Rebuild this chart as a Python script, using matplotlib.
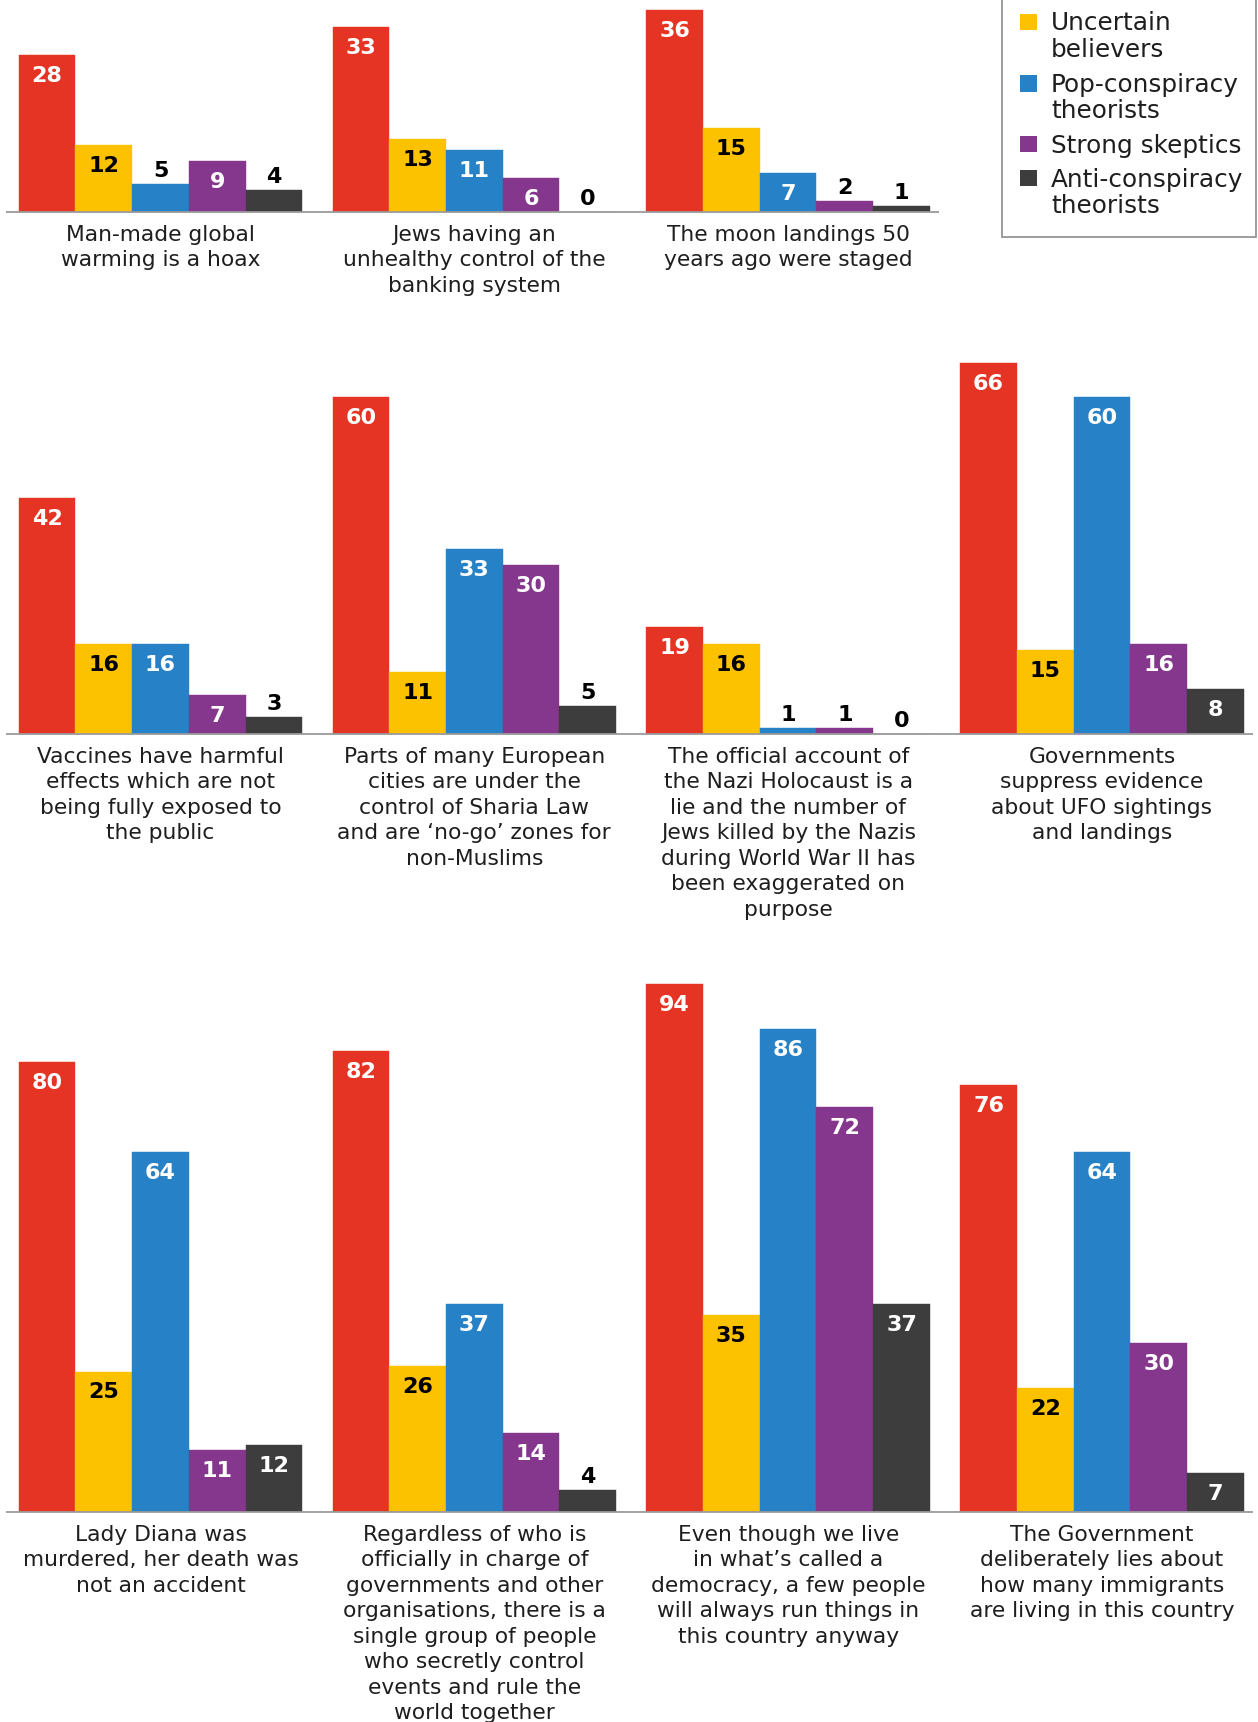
import matplotlib
matplotlib.use("Agg")
import matplotlib.pyplot as plt
from matplotlib.patches import Rectangle

# ---------------- data ----------------
series = ["Conspiracy theorists", "Uncertain believers", "Pop-conspiracy theorists",
          "Strong skeptics", "Anti-conspiracy theorists"]
legend_labels = ["Uncertain\nbelievers", "Pop-conspiracy\ntheorists",
                 "Strong skeptics", "Anti-conspiracy\ntheorists"]
colors = ["#E63424", "#FCC200", "#2681C6", "#84378C", "#3D3D3D"]
inside_label_colors = ["white", "black", "white", "white", "white"]

row1_statements = [
    "Man-made global\nwarming is a hoax",
    "Jews having an\nunhealthy control of the\nbanking system",
    "The moon landings 50\nyears ago were staged",
]
row1_values = [
    [28, 12, 5, 9, 4],
    [33, 13, 11, 6, 0],
    [36, 15, 7, 2, 1],
]

row2_statements = [
    "Vaccines have harmful\neffects which are not\nbeing fully exposed to\nthe public",
    "Parts of many European\ncities are under the\ncontrol of Sharia Law\nand are \u2018no-go\u2019 zones for\nnon-Muslims",
    "The official account of\nthe Nazi Holocaust is a\nlie and the number of\nJews killed by the Nazis\nduring World War II has\nbeen exaggerated on\npurpose",
    "Governments\nsuppress evidence\nabout UFO sightings\nand landings",
]
row2_values = [
    [42, 16, 16, 7, 3],
    [60, 11, 33, 30, 5],
    [19, 16, 1, 1, 0],
    [66, 15, 60, 16, 8],
]

row3_statements = [
    "Lady Diana was\nmurdered, her death was\nnot an accident",
    "Regardless of who is\nofficially in charge of\ngovernments and other\norganisations, there is a\nsingle group of people\nwho secretly control\nevents and rule the\nworld together",
    "Even though we live\nin what\u2019s called a\ndemocracy, a few people\nwill always run things in\nthis country anyway",
    "The Government\ndeliberately lies about\nhow many immigrants\nare living in this country",
]
row3_values = [
    [80, 25, 64, 11, 12],
    [82, 26, 37, 14, 4],
    [94, 35, 86, 72, 37],
    [76, 22, 64, 30, 7],
]

rows = [(row1_statements, row1_values),
        (row2_statements, row2_values),
        (row3_statements, row3_values)]

# ---------------- layout ----------------
W, H, DPI = 1258, 1722, 100
PX_PER_UNIT = 5.62
X_LEFT_PX, X_RIGHT_PX = 5.5, 1252.5
XLIM = (-0.733, 21.26)
GROUP_STEP = 5.535
BASELINES = [212, 734, 1512]
TOPS = [0, 290, 880]
INSIDE_MIN = 6

TEXT_COLOR = "#1e1e1e"
CAT_FS = 15.7
VAL_FS = 16
LEG_FS = 17.8

plt.rcParams["font.family"] = ["DejaVu Sans"]

fig = plt.figure(figsize=(W / DPI, H / DPI), dpi=DPI)
fig.patch.set_facecolor("white")

for (statements, values), base, top in zip(rows, BASELINES, TOPS):
    ax = fig.add_axes([X_LEFT_PX / W, 1 - base / H,
                       (X_RIGHT_PX - X_LEFT_PX) / W, (base - top) / H])
    ax.set_xlim(*XLIM)
    ax.set_ylim(0, (base - top) / PX_PER_UNIT)
    ax.axis("off")
    n_groups = len(values)
    for g, vals in enumerate(values):
        x0 = g * GROUP_STEP
        for j, v in enumerate(vals):
            x = x0 + j
            ax.bar(x, v, width=1.0, color=colors[j], edgecolor=colors[j],
                   linewidth=0.3, zorder=2)
            if v >= INSIDE_MIN:
                ax.annotate(str(v), xy=(x, v), xytext=(0, -27),
                            textcoords="offset pixels", ha="center", va="baseline",
                            fontsize=VAL_FS, fontweight="bold",
                            color=inside_label_colors[j], zorder=4,
                            annotation_clip=False)
            else:
                ax.annotate(str(v), xy=(x, v), xytext=(0, 7),
                            textcoords="offset pixels", ha="center", va="baseline",
                            fontsize=VAL_FS, fontweight="bold",
                            color="black", zorder=4, annotation_clip=False)
        ax.annotate(statements[g], xy=(x0 + 2, 0), xytext=(0, -13),
                    textcoords="offset pixels", ha="center", va="top",
                    fontsize=CAT_FS, linespacing=1.34, color=TEXT_COLOR,
                    annotation_clip=False)
    line_end = (n_groups - 1) * GROUP_STEP + 4.5 + 0.155
    ax.plot([XLIM[0], line_end], [0, 0], color="#9a9a9a", lw=1.3,
            solid_capstyle="butt", clip_on=False, zorder=3)

# ---------------- legend (drawn in pixel space) ----------------
lax = fig.add_axes([0, 0, 1, 1], facecolor="none")
lax.set_xlim(0, W)
lax.set_ylim(H, 0)
lax.axis("off")
lax.add_patch(Rectangle((1002, -10), 254, 247, facecolor="white",
                        edgecolor="#8c8c8c", lw=1.2))
leg_centers = [22, 83.5, 144, 178]
for lab, col, cy in zip(legend_labels, colors[1:], leg_centers):
    lax.add_patch(Rectangle((1020, cy - 8.5), 16.5, 16.5, facecolor=col,
                            edgecolor="none"))
    lax.text(1051, cy - 10.5, lab, ha="left", va="top", fontsize=LEG_FS,
             linespacing=1.13, color=TEXT_COLOR)

fig.savefig("out.png", dpi=DPI, facecolor="white")
